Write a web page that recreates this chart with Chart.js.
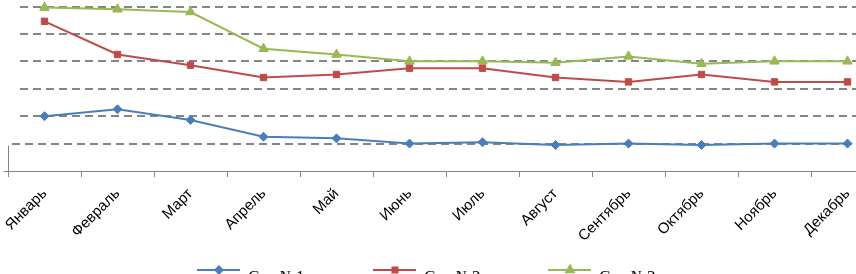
<!DOCTYPE html>
<html>
<head>
<meta charset="utf-8">
<script src="https://cdn.jsdelivr.net/npm/chart.js@4.4.1/dist/chart.umd.min.js"></script>
<style>
html, body { margin: 0; padding: 0; background: #fff; overflow: hidden; width: 856px; height: 274px; }
#wrap { position: absolute; left: 0; top: 0; width: 900px; height: 300px; }
</style>
</head>
<body>
<div id="wrap"><canvas id="chart" width="900" height="300"></canvas></div>
<script>
const months = ['Январь', 'Февраль', 'Март', 'Апрель', 'Май', 'Июнь', 'Июль', 'Август', 'Сентябрь', 'Октябрь', 'Ноябрь', 'Декабрь'];
const seriesNames = ['Сад №1', 'Сад №2', 'Сад №3'];
const series1 = [2.0, 2.25, 1.86, 1.25, 1.19, 1.0, 1.05, 0.95, 1.0, 0.95, 1.0, 1.0];
const series2 = [5.46, 4.25, 3.86, 3.41, 3.52, 3.75, 3.75, 3.41, 3.25, 3.52, 3.25, 3.25];
const series3 = [5.96, 5.9, 5.8, 4.46, 4.25, 4.0, 4.0, 3.95, 4.18, 3.91, 4.0, 4.0];
const yMin = 0, yMax = 6, yStep = 1;

const colors = ['#4A7EBB', '#BE4B48', '#98B954'];
const markers = ['rectRot', 'rect', 'triangle'];
const markerSizes = [4.5, 4.5, 5.5];

// dashed horizontal grid, drawn under the lines
const dashedGrid = {
    id: 'dashedGrid',
    beforeDatasetsDraw(chart) {
        const ctx = chart.ctx;
        const ys = chart.scales.y;
        const area = chart.chartArea;
        ctx.save();
        ctx.strokeStyle = '#858585';
        ctx.lineWidth = 2;
        ctx.setLineDash([8, 5]);
        ys.ticks.forEach(t => {
            if (t.value === yMin) return;
            const py = Math.round(ys.getPixelForValue(t.value));
            ctx.beginPath();
            ctx.moveTo(area.left + (t.value === yStep ? 4 : 12), py);
            ctx.lineTo(area.right, py);
            ctx.stroke();
        });
        ctx.restore();
    }
};

// draws the y axis stub, corner tick and the legend (half cut off by the window)
const extras = {
    id: 'extras',
    afterDraw(chart) {
        const ctx = chart.ctx;
        const ys = chart.scales.y;
        const ax = chart.chartArea.left + 0.5;
        const y0 = Math.round(ys.getPixelForValue(0)) + 0.5;
        ctx.save();
        ctx.strokeStyle = '#868686';
        ctx.lineWidth = 1;
        ctx.beginPath();
        ctx.moveTo(ax, ys.getPixelForValue(1) + 2);
        ctx.lineTo(ax, y0);
        ctx.moveTo(ax - 5, y0);
        ctx.lineTo(ax, y0);
        ctx.stroke();

        const legendX = [197, 373, 548];
        const ly = 270;
        chart.data.datasets.forEach((ds, i) => {
            const lx = legendX[i];
            ctx.strokeStyle = ds.borderColor;
            ctx.lineWidth = 2;
            ctx.beginPath();
            ctx.moveTo(lx, ly);
            ctx.lineTo(lx + 43, ly);
            ctx.stroke();
            ctx.fillStyle = ds.borderColor;
            Chart.helpers.drawPoint(ctx, {
                pointStyle: ds.pointStyle, radius: ds.pointRadius * 0.8, rotation: 0, borderWidth: 1
            }, lx + 22, ly);
            ctx.fillStyle = '#000';
            ctx.font = '17px "Liberation Serif"';
            ctx.textBaseline = 'alphabetic';
            ctx.textAlign = 'left';
            ctx.fillText(ds.label, lx + 51, ly + 12);
        });
        ctx.restore();
    }
};

const data = [series1, series2, series3];

new Chart(document.getElementById('chart'), {
    type: 'line',
    data: {
        labels: months,
        datasets: data.map((values, i) => ({
            label: seriesNames[i],
            data: values,
            borderColor: colors[i],
            backgroundColor: colors[i],
            borderWidth: 2,
            pointStyle: markers[i],
            pointRadius: markerSizes[i],
            pointBorderWidth: 1,
            tension: 0,
            clip: false
        }))
    },
    options: {
        responsive: false,
        animation: false,
        layout: { padding: { left: 0, right: 16, top: 4, bottom: 0 } },
        plugins: { legend: { display: false }, tooltip: { enabled: false } },
        scales: {
            x: {
                offset: true,
                grid: { drawOnChartArea: false, drawTicks: true, tickLength: 6, tickColor: '#868686', offset: true },
                border: { color: '#868686', width: 1 },
                ticks: {
                    minRotation: 45, maxRotation: 45, padding: 8,
                    color: '#000',
                    font: { family: '"Liberation Sans", Arial', size: 15 }
                },
                afterFit(scale) {
                    scale.height = 300 - 171;
                    scale.paddingLeft = 0;
                    scale.paddingRight = 0;
                }
            },
            y: {
                min: yMin, max: yMax,
                ticks: { display: false, stepSize: yStep },
                grid: { display: false },
                border: { display: false },
                afterFit(scale) {
                    scale.width = 8;
                    scale.paddingTop = 0;
                    scale.paddingBottom = 0;
                }
            }
        }
    },
    plugins: [dashedGrid, extras]
});
</script>
</body>
</html>
